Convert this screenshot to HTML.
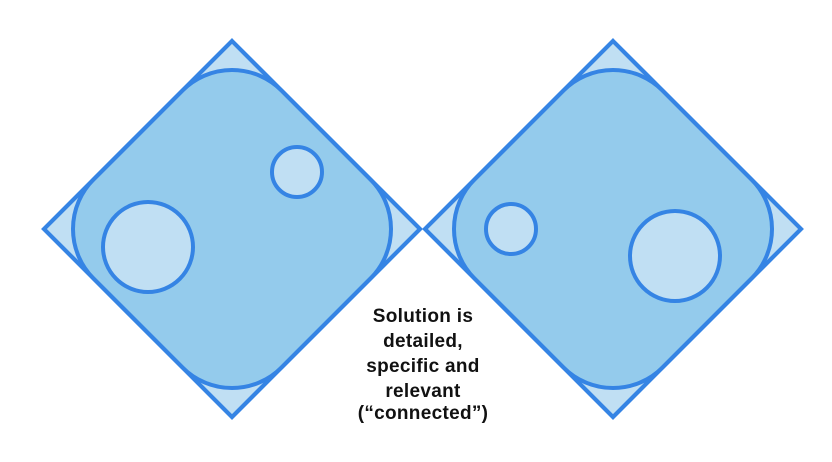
<!DOCTYPE html>
<html><head><style>body{margin:0;background:#fff}</style></head><body>
<svg width="832" height="457" xmlns="http://www.w3.org/2000/svg">
<g stroke="#3584e4" stroke-width="4">
<polygon points="232,41 420,229 232,417 44,229" fill="#c0dff3"/>
<path d="M182.5,90.5 A70,70 0 0 1 281.5,90.5 L370.5,179.5 A70,70 0 0 1 370.5,278.5 L281.5,367.5 A70,70 0 0 1 182.5,367.5 L93.5,278.5 A70,70 0 0 1 93.5,179.5 Z" fill="#94cbec"/>
<polygon points="232,41 420,229 232,417 44,229" fill="none"/>
<circle cx="148" cy="247" r="45" fill="#c0dff3"/>
<circle cx="297" cy="172" r="25" fill="#c0dff3"/>
<g transform="translate(381,0)">
<polygon points="232,41 420,229 232,417 44,229" fill="#c0dff3"/>
<path d="M182.5,90.5 A70,70 0 0 1 281.5,90.5 L370.5,179.5 A70,70 0 0 1 370.5,278.5 L281.5,367.5 A70,70 0 0 1 182.5,367.5 L93.5,278.5 A70,70 0 0 1 93.5,179.5 Z" fill="#94cbec"/>
<polygon points="232,41 420,229 232,417 44,229" fill="none"/>
</g>
<circle cx="511" cy="229" r="25" fill="#c0dff3"/>
<circle cx="675" cy="256" r="45" fill="#c0dff3"/>
</g>
<g font-family="Liberation Sans, sans-serif" font-weight="bold" font-size="19" letter-spacing="0.3" text-anchor="middle" fill="#111">
<text x="423" y="322">Solution is</text>
<text x="423" y="347">detailed,</text>
<text x="423" y="372">specific and</text>
<text x="423" y="397">relevant</text>
<text x="423" y="419">(“connected”)</text>
</g>
</svg>
</body></html>
